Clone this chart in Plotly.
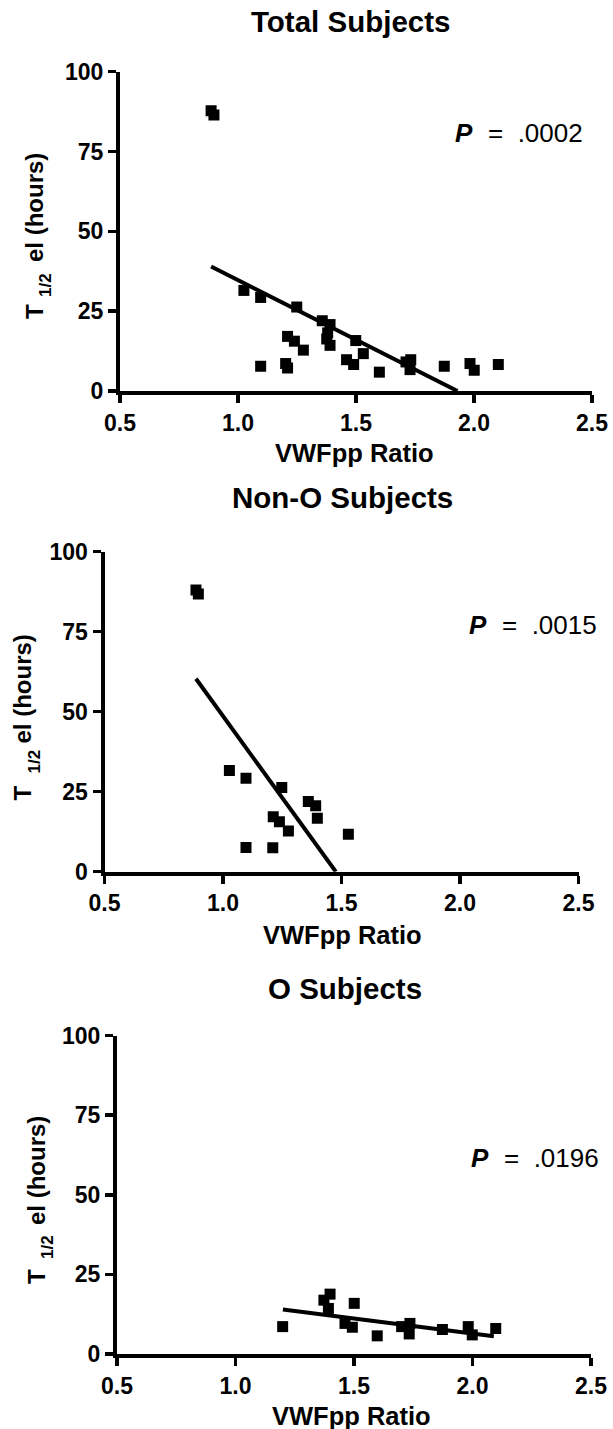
import plotly.graph_objects as go

# ---------------- data ----------------
TITLES = ["Total Subjects", "Non-O Subjects", "O Subjects"]
P_TEXTS = [".0002", ".0015", ".0196"]
X_TICKS = [0.5, 1.0, 1.5, 2.0, 2.5]
X_TICK_LABELS = ["0.5", "1.0", "1.5", "2.0", "2.5"]
Y_TICKS = [0, 25, 50, 75, 100]
Y_TICK_LABELS = ["0", "25", "50", "75", "100"]
X_TITLE = "VWFpp Ratio"
Y_TITLE_PARTS = ["T", "1/2", "el (hours)"]   # "T" + subscript "1/2" + "el (hours)"

total_x = [0.886, 0.898, 1.025, 1.096, 1.096, 1.249, 1.210, 1.239, 1.277, 1.202,
           1.210, 1.357, 1.390, 1.380, 1.376, 1.390, 1.499, 1.531, 1.460, 1.490,
           1.599, 1.712, 1.732, 1.729, 1.874, 1.983, 2.001, 2.103]
total_y = [87.8, 86.4, 31.5, 29.3, 7.75, 26.3, 17.1, 15.6, 12.8, 8.6,
           7.2, 22.0, 20.8, 18.2, 16.3, 14.3, 15.8, 11.7, 9.8, 8.3,
           5.9, 9.1, 9.8, 6.7, 7.75, 8.6, 6.5, 8.3]

nono_x = [0.886, 0.896, 1.027, 1.097, 1.097, 1.248, 1.212, 1.238, 1.276, 1.210,
          1.360, 1.391, 1.398, 1.529]
nono_y = [88.0, 86.8, 31.6, 29.2, 7.6, 26.3, 17.2, 15.6, 12.7, 7.5,
          21.9, 20.6, 16.7, 11.7]

o_x = [1.199, 1.399, 1.373, 1.392, 1.501, 1.462, 1.493, 1.598, 1.701, 1.736,
       1.733, 1.873, 1.982, 1.999, 2.098]
o_y = [8.6, 18.8, 16.9, 14.3, 15.9, 9.6, 8.4, 5.7, 8.6, 9.6,
       6.3, 7.7, 8.6, 6.0, 8.0]

# linear-regression fits (slope, intercept, x extent) as drawn in the reference
FIT_SLOPE = [-37.36, -102.2, -9.44]
FIT_INTERCEPT = [72.1, 150.85, 25.33]
FIT_XMIN = [0.886, 0.886, 1.20]
FIT_XMAX = [1.930, 1.476, 2.09]

SERIES_X = [total_x, nono_x, o_x]
SERIES_Y = [total_y, nono_y, o_y]

# ---------------- layout (pixel geometry of the page) ----------------
W, H = 613, 1429
FONT = "Liberation Sans, Arial, Helvetica, sans-serif"

# plot-area boxes in page pixels: (x_left, x_right, y_top, y_bottom)
BOXES = [(120, 592, 71.7, 391.0),
         (104.5, 578.5, 551.7, 871.7),
         (117, 591, 1035.5, 1354.0)]
TITLE_POS = [(350, 22), (342, 498), (345, 988)]
XTITLE_POS = [(354, 453), (342, 935), (352, 1416)]
# y-title pieces: x of the cap centre line, y centres of "T", "1/2", "el (hours)"
YTITLE_X = [34, 22.5, 36]
YTITLE_Y = [(312, 285, 208), (793, 762, 689), (1277, 1247, 1171)]
SUB_SHIFT = 11
P_POS = [(453, 133), (467, 625), (469, 1158)]


def px(x):
    return x / W


def py(y):
    return 1 - y / H


fig = go.Figure()
layout = dict(width=W, height=H, margin=dict(l=0, r=0, t=0, b=0, pad=0, autoexpand=False),
              paper_bgcolor="white", plot_bgcolor="white", showlegend=False,
              template="none",
              font=dict(family=FONT, color="black"))
annotations = []


def ann(text, x, y, size, xanchor="center", angle=0, weight="normal", style="normal"):
    annotations.append(dict(text=text, xref="paper", yref="paper",
                            x=px(x), y=py(y), xanchor=xanchor, yanchor="middle",
                            textangle=angle, showarrow=False,
                            font=dict(family=FONT, size=size, color="black",
                                      weight=weight, style=style)))


for i in range(3):
    xa = "x" if i == 0 else f"x{i+1}"
    ya = "y" if i == 0 else f"y{i+1}"
    xl, xr, yt, yb = BOXES[i]
    common = dict(showline=True, linewidth=4, linecolor="black", mirror=False,
                  ticks="outside", ticklen=8, tickwidth=3.5, tickcolor="black",
                  showgrid=False, zeroline=False, fixedrange=True, automargin=False,
                  tickfont=dict(family=FONT, size=23, color="black", weight="bold"))
    layout["xaxis" if i == 0 else f"xaxis{i+1}"] = dict(
        common, domain=[px(xl), px(xr)], range=[0.5, 2.5], anchor=ya,
        tickmode="array", tickvals=X_TICKS, ticktext=X_TICK_LABELS)
    layout["yaxis" if i == 0 else f"yaxis{i+1}"] = dict(
        common, domain=[py(yb), py(yt)], range=[0, 100], anchor=xa,
        tickmode="array", tickvals=Y_TICKS, ticktext=Y_TICK_LABELS)

    # data points
    fig.add_trace(go.Scatter(x=SERIES_X[i], y=SERIES_Y[i], mode="markers",
                             xaxis=xa, yaxis=ya,
                             marker=dict(symbol="square", size=11, color="black",
                                         line=dict(width=0))))
    # regression line
    fx = [FIT_XMIN[i], FIT_XMAX[i]]
    fy = [FIT_SLOPE[i] * v + FIT_INTERCEPT[i] for v in fx]
    fig.add_trace(go.Scatter(x=fx, y=fy, mode="lines", xaxis=xa, yaxis=ya,
                             line=dict(color="black", width=4)))

    # panel title and x-axis title
    ann(TITLES[i], *TITLE_POS[i], 29.5, weight="bold")
    ann(X_TITLE, *XTITLE_POS[i], 25.5, weight="bold")
    # y-axis title: "T", subscript "1/2", "el (hours)" (rotated)
    yx = YTITLE_X[i]
    ty, sy, ey = YTITLE_Y[i]
    ann(Y_TITLE_PARTS[0], yx, ty, 24, angle=-90, weight="bold")
    ann(Y_TITLE_PARTS[1], yx + SUB_SHIFT, sy, 17, angle=-90, weight="bold")
    ann(Y_TITLE_PARTS[2], yx, ey, 24, angle=-90, weight="bold")
    # P value: italic bold "P" and regular "=  .xxxx"
    tx, ty = P_POS[i]
    ann("P", tx, ty, 26, xanchor="left", weight="bold", style="italic")
    ann("=\u00a0\u00a0" + P_TEXTS[i], tx + 33, ty, 26, xanchor="left")

layout["annotations"] = annotations
fig.update_layout(**layout)
fig.write_html("out.html", config={"displayModeBar": False, "staticPlot": True},
               post_script="document.body.style.margin='0';document.body.style.overflow='hidden';")
